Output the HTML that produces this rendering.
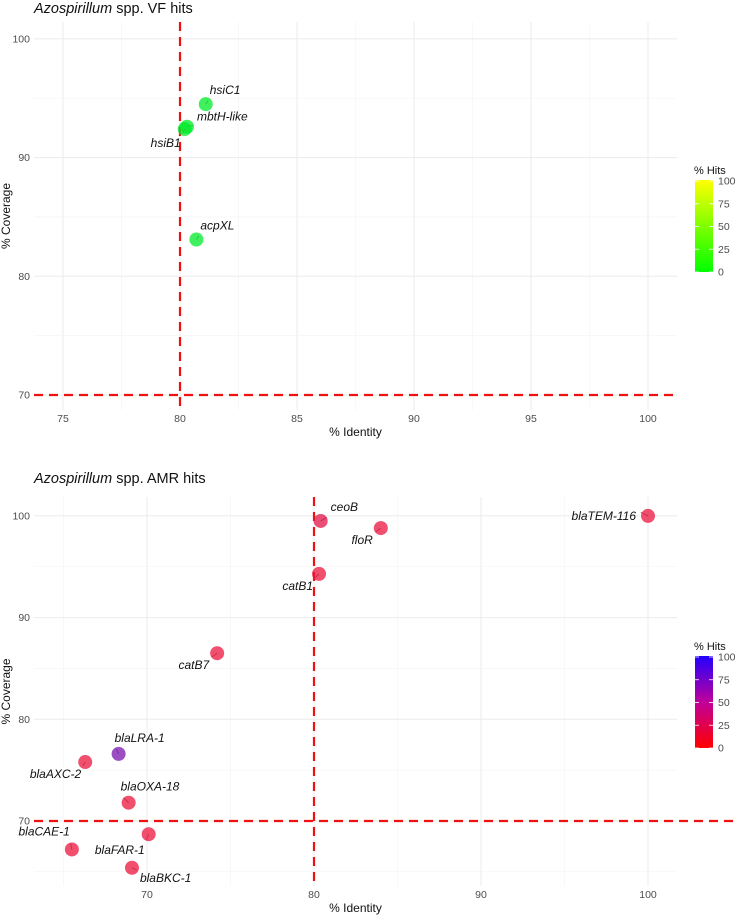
<!DOCTYPE html>
<html><head><meta charset="utf-8"><style>
body{margin:0;background:#fff}
svg{font-family:"Liberation Sans",sans-serif;display:block}
.tick{font-size:10.5px;fill:#4d4d4d}
.lab{font-size:12px;font-style:italic;fill:#111}
</style></head><body>
<svg id="c" width="735" height="919">
<defs>
<linearGradient id="gg" x1="0" y1="1" x2="0" y2="0"><stop offset="0" stop-color="#00ff00"/><stop offset="1" stop-color="#ffff00"/></linearGradient>
<linearGradient id="gr" x1="0" y1="1" x2="0" y2="0"><stop offset="0" stop-color="#ff0000"/><stop offset="0.5" stop-color="#c0009a"/><stop offset="1" stop-color="#2200ff"/></linearGradient>
</defs>
</svg>
<script>
const vfNames=["hsiC1","mbtH-like","hsiB1","acpXL"];
const vfIdentity=[81.1,80.3,80.2,80.7];
const vfCoverage=[94.5,92.6,92.4,83.1];
const vfHits=[0,0,0,0];
const amrNames=["ceoB","floR","blaTEM-116","catB1","catB7","blaLRA-1","blaAXC-2","blaOXA-18","blaFAR-1","blaCAE-1","blaBKC-1"];
const amrIdentity=[80.4,84.0,100,80.3,74.2,68.3,66.3,68.9,70.1,65.5,69.1];
const amrCoverage=[99.5,98.8,100,94.3,86.5,76.6,75.8,71.8,68.7,67.2,65.4];
const amrHits=[5,0,0,0,0,60,0,0,0,0,0];
const vfXTicks=[75,80,85,90,95,100];
const vfYTicks=[70,80,90,100];
const amrXTicks=[70,80,90,100];
const amrYTicks=[70,80,90,100];
const legTicks=[0,25,50,75,100];
const NS="http://www.w3.org/2000/svg";
const svg=document.getElementById('c');
function mk(t,a,p){const e=document.createElementNS(NS,t);for(const k in a)e.setAttribute(k,a[k]);(p||svg).appendChild(e);return e;}
const vfOff=[[4,-10,'start'],[10,-6,'start'],[-4,18,'end'],[4,-10,'start']];
const amrOff=[[10,-10,'start'],[-8,16,'end'],[-12,4,'end'],[-6,16,'end'],[-8,16,'end'],[-4,-12,'start'],[-4,16,'end'],[-8,-12,'start'],[-4,20,'end'],[-2,-14,'end'],[8,14,'start']];
function panel(cfg){
  const g=mk('g',{});
  const X=v=>cfg.x0+(v-cfg.xv0)*cfg.xs, Y=v=>cfg.y0-(v-cfg.yv0)*cfg.ys;
  for(let i=0;i<cfg.xt.length;i++){const v=cfg.xt[i];
    const l=mk('line',{x1:X(v),x2:X(v),y1:cfg.top,y2:cfg.bot,stroke:'#ebebeb','stroke-width':1},g);
    
    const m=v-cfg.xstep/2;
    if(X(m)>cfg.left) mk('line',{x1:X(m),x2:X(m),y1:cfg.top,y2:cfg.bot,stroke:'#f3f3f3','stroke-width':0.6},g);
    if(i==cfg.xt.length-1 && X(v+cfg.xstep/2)<cfg.right) mk('line',{x1:X(v+cfg.xstep/2),x2:X(v+cfg.xstep/2),y1:cfg.top,y2:cfg.bot,stroke:'#f3f3f3','stroke-width':0.6},g);
    const t=mk('text',{x:X(v),y:cfg.bot+12,'text-anchor':'middle',class:'tick'},g);t.textContent=v;
    
  }
  for(let i=0;i<cfg.yt.length;i++){const v=cfg.yt[i];
    const l=mk('line',{x1:cfg.left,x2:cfg.right,y1:Y(v),y2:Y(v),stroke:'#ebebeb','stroke-width':1},g);
    
    if(Y(v+5)>cfg.top) mk('line',{x1:cfg.left,x2:cfg.right,y1:Y(v+5),y2:Y(v+5),stroke:'#f3f3f3','stroke-width':0.6},g);
    const t=mk('text',{x:cfg.left-4,y:Y(v)+3.5,'text-anchor':'end',class:'tick'},g);t.textContent=v;
    
  }
  if(Y(65)<cfg.bot) mk('line',{x1:cfg.left,x2:cfg.right,y1:Y(65),y2:Y(65),stroke:'#f3f3f3','stroke-width':0.6},g);
  const hv=mk('line',{x1:cfg.left,x2:cfg.hEnd,y1:Y(70),y2:Y(70),stroke:'#ee1111','stroke-width':2.2,'stroke-dasharray':'9,6'},g);
  
  const vv=mk('line',{x1:X(80),x2:X(80),y1:cfg.top,y2:cfg.bot,stroke:'#ee1111','stroke-width':2.2,'stroke-dasharray':'9,6'},g);
  
  for(let i=0;i<cfg.names.length;i++){
    const px=X(cfg.ix[i]),py=Y(cfg.cv[i]),o=cfg.off[i];
    mk('line',{x1:px,y1:py,x2:px+o[0]*0.6,y2:py+(o[1]>0?o[1]-10:o[1]+4)*0.6,stroke:'#555','stroke-width':0.8},g);
    const c=mk('circle',{cx:px,cy:py,r:7,fill:cfg.col(cfg.hits[i]),'fill-opacity':0.75},g);
    
    const t=mk('text',{x:px+o[0],y:py+o[1],'text-anchor':o[2],class:'lab'},g);t.textContent=cfg.names[i];
    
  }
  const ti=mk('text',{x:34,y:cfg.titleY,'font-size':14.5,fill:'#111'},g);
  ti.innerHTML='<tspan font-style="italic">Azospirillum</tspan> spp. '+cfg.title;
  
  const xa=mk('text',{x:(cfg.left+cfg.right)/2,y:cfg.bot+26,'text-anchor':'middle','font-size':12,fill:'#111'},g);xa.textContent='% Identity';
  
  const ym=(cfg.top+cfg.bot)/2;
  const ya=mk('text',{x:10,y:ym,'text-anchor':'middle','font-size':12,fill:'#111',transform:'rotate(-90 10 '+ym+')'},g);ya.textContent='% Coverage';
  
  const lg=mk('g',{},g);
  const lt=mk('text',{x:694,y:cfg.legTop-6,'font-size':11,fill:'#111'},lg);lt.textContent='% Hits';
  mk('rect',{x:695,y:cfg.legTop,width:18,height:92,fill:cfg.grad},lg);
  for(const v of legTicks){const yy=cfg.legTop+92-v/100*91;
    mk('line',{x1:695,x2:699,y1:yy,y2:yy,stroke:'#fff','stroke-width':0.8},lg);
    mk('line',{x1:709,x2:713,y1:yy,y2:yy,stroke:'#fff','stroke-width':0.8},lg);
    const t=mk('text',{x:718,y:yy+3.5,class:'tick','font-size':9},lg);t.textContent=v;}
}
function green(h){return 'rgb('+Math.round(h*2.55)+',235,40)';}
function redblue(h){const r=Math.round(235-h*1.9),b=Math.round(60+h*1.9);return 'rgb('+r+',20,'+b+')';}
panel({name:'vf-panel',title:'VF hits',names:vfNames,ix:vfIdentity,cv:vfCoverage,hits:vfHits,off:vfOff,
  x0:63,xv0:75,xs:23.4,y0:395,yv0:70,ys:11.87,top:22,bot:410,left:34,right:677,hEnd:677,xt:vfXTicks,yt:vfYTicks,xstep:5,
  titleY:13,legTop:180,grad:'url(#gg)',col:green});
panel({name:'amr-panel',title:'AMR hits',names:amrNames,ix:amrIdentity,cv:amrCoverage,hits:amrHits,off:amrOff,
  x0:147,xv0:70,xs:16.7,y0:821,yv0:70,ys:10.17,top:497,bot:886,left:34,right:677,hEnd:735,xt:amrXTicks,yt:amrYTicks,xstep:10,
  titleY:483,legTop:656,grad:'url(#gr)',col:redblue});
</script>
</body></html>
